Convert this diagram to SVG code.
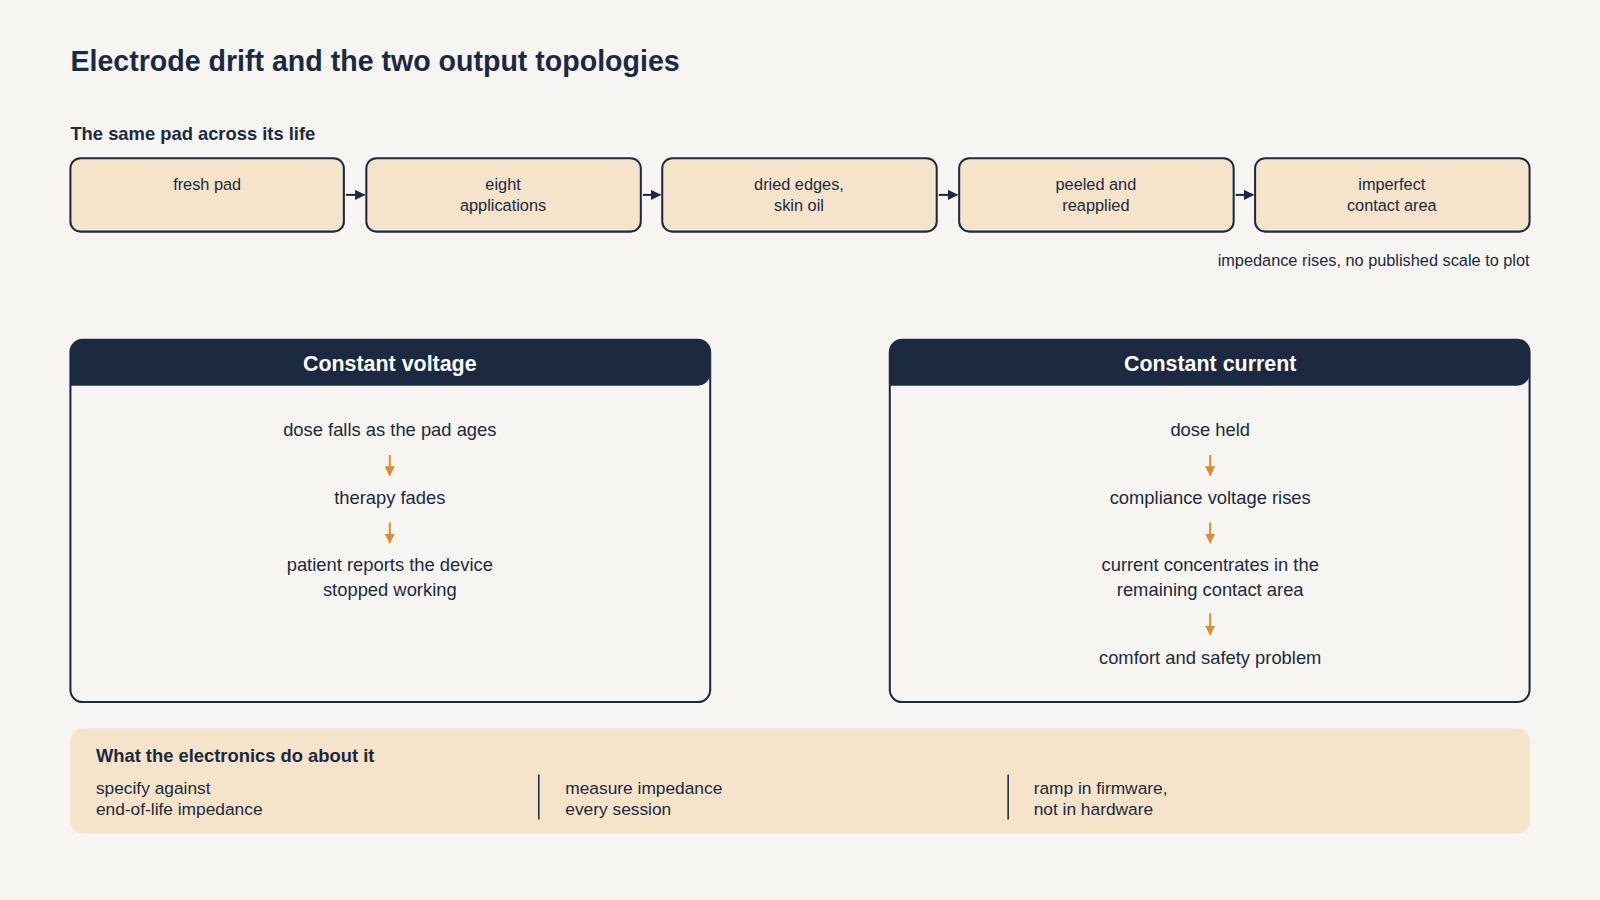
<svg xmlns="http://www.w3.org/2000/svg" width="1600" height="900" viewBox="0 0 1600 900">
<defs>
<style>
text{font-family:"Liberation Sans",Arial,sans-serif;fill:#1b2a40}
.b{font-weight:bold}
.s{fill:#f5e4c9;stroke:#1b2a40;stroke-width:2}
.c{text-anchor:middle;font-size:16px}
.m{text-anchor:middle;font-size:18px}
.h{text-anchor:middle;font-size:21px;font-weight:bold;fill:#fff}
.t{font-size:17px}
.a{stroke:#1b2a40;stroke-width:2;fill:none}
.o{stroke:#d4912d;stroke-width:2;fill:none}
</style>
<marker id="ad" viewBox="0 0 10 10" refX="9" refY="5" markerWidth="5" markerHeight="5" orient="auto"><path d="M0,0L10,5L0,10z" fill="#1b2a40"/></marker>
<marker id="ao" viewBox="0 0 10 10" refX="9" refY="5" markerWidth="5" markerHeight="5" orient="auto"><path d="M0,0L10,5L0,10z" fill="#d4912d"/></marker>
</defs>
<rect width="1600" height="900" fill="#f7f5f1"/>
<g transform="scale(1.0204)">
<text x="69" y="70" class="b" font-size="28">Electrode drift and the two output topologies</text>
<text x="69" y="137" class="b" font-size="18">The same pad across its life</text>
<g id="n1"><rect class="s" x="69" y="155" width="268" height="72" rx="10"/><text class="c" x="203" y="186">fresh pad</text></g>
<g id="n2"><rect class="s" x="359" y="155" width="269" height="72" rx="10"/><text class="c" x="493" y="186">eight</text><text class="c" x="493" y="207">applications</text></g>
<g id="n3"><rect class="s" x="649" y="155" width="269" height="72" rx="10"/><text class="c" x="783" y="186">dried edges,</text><text class="c" x="783" y="207">skin oil</text></g>
<g id="n4"><rect class="s" x="940" y="155" width="269" height="72" rx="10"/><text class="c" x="1074" y="186">peeled and</text><text class="c" x="1074" y="207">reapplied</text></g>
<g id="n5"><rect class="s" x="1230" y="155" width="269" height="72" rx="10"/><text class="c" x="1364" y="186">imperfect</text><text class="c" x="1364" y="207">contact area</text></g>
<text x="1499" y="261" text-anchor="end" font-size="16">impedance rises, no published scale to plot</text>
<g id="connectors">
<path class="a" marker-end="url(#ad)" d="M339,191H357"/>
<path class="a" marker-end="url(#ad)" d="M630,191H647"/>
<path class="a" marker-end="url(#ad)" d="M920,191H938"/>
<path class="a" marker-end="url(#ad)" d="M1211,191H1228"/>
<path class="o" marker-end="url(#ao)" d="M382,446V466"/>
<path class="o" marker-end="url(#ao)" d="M382,512V532"/>
<path class="o" marker-end="url(#ao)" d="M1186,446V466"/>
<path class="o" marker-end="url(#ao)" d="M1186,512V532"/>
<path class="o" marker-end="url(#ao)" d="M1186,601V622"/>
</g>
<g id="cv">
<rect x="69" y="333" width="627" height="355" rx="12" fill="none" stroke="#1b2a40" stroke-width="2"/>
<path d="M69,378V345a12,12 0 0 1 12,-12H684a12,12 0 0 1 12,12V366a12,12 0 0 1 -12,12z" fill="#1b2a40"/>
<text class="h" x="382" y="364">Constant voltage</text>
<text class="m" x="382" y="427">dose falls as the pad ages</text>
<text class="m" x="382" y="494">therapy fades</text>
<text class="m" x="382" y="560">patient reports the device</text>
<text class="m" x="382" y="584">stopped working</text>
</g>
<g id="cc">
<rect x="872" y="333" width="627" height="355" rx="12" fill="none" stroke="#1b2a40" stroke-width="2"/>
<path d="M872,378V345a12,12 0 0 1 12,-12H1487a12,12 0 0 1 12,12V366a12,12 0 0 1 -12,12z" fill="#1b2a40"/>
<text class="h" x="1186" y="364">Constant current</text>
<text class="m" x="1186" y="427">dose held</text>
<text class="m" x="1186" y="494">compliance voltage rises</text>
<text class="m" x="1186" y="560">current concentrates in the</text>
<text class="m" x="1186" y="584">remaining contact area</text>
<text class="m" x="1186" y="651">comfort and safety problem</text>
</g>
<g id="band">
<rect x="69" y="714" width="1430" height="103" rx="12" fill="#f5e4c9"/>
<text x="94" y="747" class="b" font-size="18">What the electronics do about it</text>
<text class="t" x="94" y="778">specify against</text><text class="t" x="94" y="799">end-of-life impedance</text>
<text class="t" x="554" y="778">measure impedance</text><text class="t" x="554" y="799">every session</text>
<text class="t" x="1013" y="778">ramp in firmware,</text><text class="t" x="1013" y="799">not in hardware</text>
<path d="M528,759V803M988,759V803" stroke="#1b2a40" stroke-width="1.5"/>
</g>
</g>
</svg>
